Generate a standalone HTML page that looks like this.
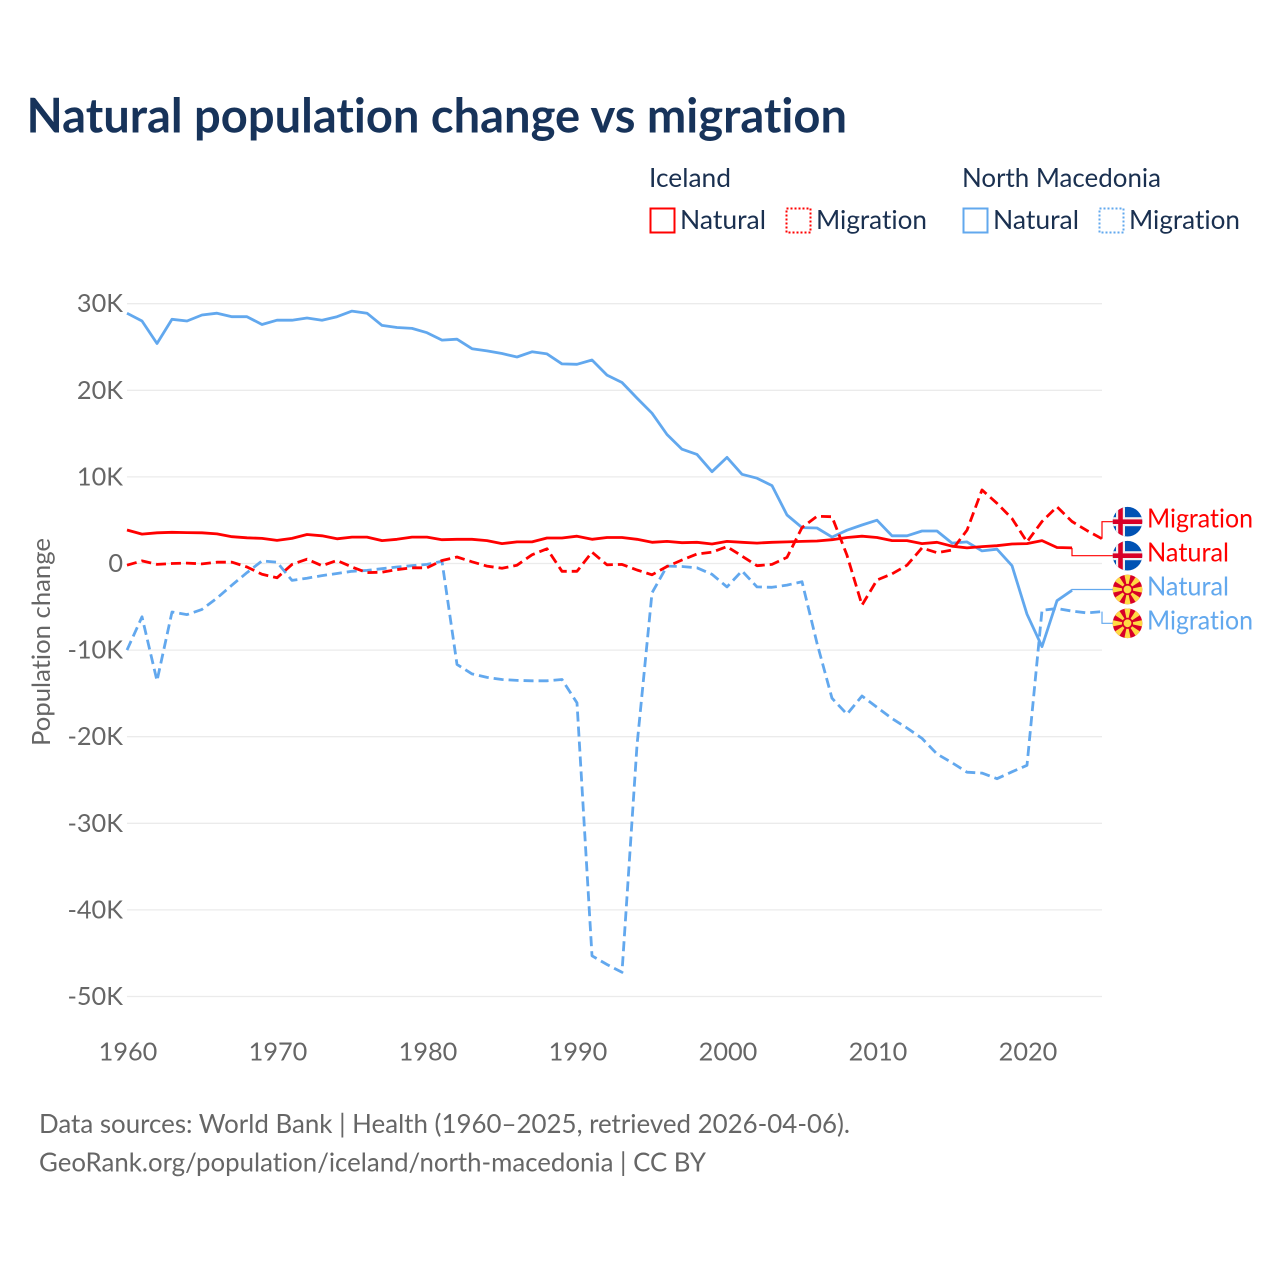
<!DOCTYPE html>
<html lang="en">
<head>
<meta charset="utf-8">
<title>Natural population change vs migration</title>
<style>
html,body{margin:0;padding:0;background:#fff;}
svg{display:block;font-family:"Lato","Carlito","Liberation Sans",sans-serif;font-variant-ligatures:none;}
text{font-variant-ligatures:none;font-feature-settings:"liga" 0,"clig" 0;}
.tick{font-size:25.3px;fill:#666;}
.leg{font-size:26px;fill:#1a3050;}
.endlabel{font-size:26px;}
.src{font-size:26px;fill:#666;}
</style>
</head>
<body>
<svg id="chart" width="1280" height="1280" viewBox="0 0 1280 1280" xmlns="http://www.w3.org/2000/svg">
  <defs>
    <clipPath id="flag-clip"><circle cx="0" cy="0" r="14.8"/></clipPath>
    <g id="flag-is" clip-path="url(#flag-clip)">
      <rect x="-16" y="-16" width="32" height="32" fill="#0052b4"/>
      <rect x="-11.5" y="-16" width="9" height="32" fill="#f0f0f0"/>
      <rect x="-16" y="-4.5" width="32" height="9" fill="#f0f0f0"/>
      <rect x="-9.3" y="-16" width="4.6" height="32" fill="#d80027"/>
      <rect x="-16" y="-2.3" width="32" height="4.6" fill="#d80027"/>
    </g>
    <g id="flag-mk" clip-path="url(#flag-clip)">
      <rect x="-16" y="-16" width="32" height="32" fill="#d80027"/>
      <g fill="#ffda44">
        <polygon points="0,0 -3.4,-16 3.4,-16"/>
        <polygon points="0,0 -3.4,-16 3.4,-16" transform="rotate(45)"/>
        <polygon points="0,0 -3.4,-16 3.4,-16" transform="rotate(90)"/>
        <polygon points="0,0 -3.4,-16 3.4,-16" transform="rotate(135)"/>
        <polygon points="0,0 -3.4,-16 3.4,-16" transform="rotate(180)"/>
        <polygon points="0,0 -3.4,-16 3.4,-16" transform="rotate(225)"/>
        <polygon points="0,0 -3.4,-16 3.4,-16" transform="rotate(270)"/>
        <polygon points="0,0 -3.4,-16 3.4,-16" transform="rotate(315)"/>
      </g>
      <circle r="5.6" fill="#d80027"/>
      <circle r="3.9" fill="#ffda44"/>
    </g>
  </defs>

  <text x="26.5" y="132.5" font-size="48" font-weight="700" fill="#17335a" textLength="820.5" lengthAdjust="spacingAndGlyphs">Natural population change vs migration</text>

  <g>
    <text class="leg" x="649" y="187" textLength="82" lengthAdjust="spacingAndGlyphs">Iceland</text>
    <text class="leg" x="962" y="187" textLength="199" lengthAdjust="spacingAndGlyphs">North Macedonia</text>
    <rect x="650.5" y="208.5" width="24" height="24" fill="none" stroke="#ff0000" stroke-width="2"/>
    <text class="leg" x="680" y="229" textLength="86" lengthAdjust="spacingAndGlyphs">Natural</text>
    <rect x="786.5" y="208.5" width="24" height="24" fill="none" stroke="#ff0000" stroke-width="2" stroke-dasharray="2 2"/>
    <text class="leg" x="816" y="229" textLength="111" lengthAdjust="spacingAndGlyphs">Migration</text>
    <rect x="963.5" y="208.5" width="24" height="24" fill="none" stroke="#62a8ee" stroke-width="2"/>
    <text class="leg" x="993" y="229" textLength="86" lengthAdjust="spacingAndGlyphs">Natural</text>
    <rect x="1099.5" y="208.5" width="24" height="24" fill="none" stroke="#62a8ee" stroke-width="2" stroke-dasharray="2 2"/>
    <text class="leg" x="1129" y="229" textLength="111" lengthAdjust="spacingAndGlyphs">Migration</text>
  </g>

  <text class="tick" transform="translate(50,642) rotate(-90)" text-anchor="middle" textLength="208" lengthAdjust="spacingAndGlyphs">Population change</text>

  <g id="grid"></g>
  <g id="yticks"></g>
  <g id="xticks"></g>
  <g id="connectors"></g>
  <g id="series"></g>

  <g>
    <use href="#flag-is" x="1127.5" y="521.7"/>
    <text class="endlabel" x="1147" y="527.5" fill="#ff0000" textLength="106" lengthAdjust="spacingAndGlyphs">Migration</text>
    <use href="#flag-is" x="1127.5" y="555.7"/>
    <text class="endlabel" x="1147" y="561.5" fill="#ff0000" textLength="82" lengthAdjust="spacingAndGlyphs">Natural</text>
    <use href="#flag-mk" x="1127.5" y="589.5"/>
    <text class="endlabel" x="1147" y="595.5" fill="#62a8ee" textLength="82" lengthAdjust="spacingAndGlyphs">Natural</text>
    <use href="#flag-mk" x="1127.5" y="623.3"/>
    <text class="endlabel" x="1147" y="629.5" fill="#62a8ee" textLength="106" lengthAdjust="spacingAndGlyphs">Migration</text>
  </g>

  <text class="src" x="39" y="1133" textLength="811" lengthAdjust="spacingAndGlyphs">Data sources: World Bank | Health (1960–2025, retrieved 2026-04-06).</text>
  <text class="src" x="39" y="1171.5" textLength="667" lengthAdjust="spacingAndGlyphs">GeoRank.org/population/iceland/north-macedonia | CC BY</text>
</svg>

<script>
const startYear = 1960;
const yTickValues = [30, 20, 10, 0, -10, -20, -30, -40, -50];
const yTickLabels = ["30K", "20K", "10K", "0", "-10K", "-20K", "-30K", "-40K", "-50K"];
const xTickValues = [1960, 1970, 1980, 1990, 2000, 2010, 2020];
const xTickLabels = ["1960", "1970", "1980", "1990", "2000", "2010", "2020"];

// Values in thousands, one per year starting at 1960
const icelandNatural = [3.87,3.4,3.55,3.6,3.57,3.55,3.42,3.1,2.97,2.9,2.67,2.9,3.35,3.2,2.85,3.05,3.05,2.65,2.8,3.05,3.05,2.75,2.8,2.8,2.65,2.3,2.5,2.5,2.95,2.95,3.15,2.8,3.0,3.0,2.8,2.45,2.55,2.4,2.45,2.25,2.55,2.45,2.35,2.45,2.5,2.55,2.6,2.75,3.0,3.15,3.0,2.65,2.65,2.3,2.45,2.0,1.8,1.95,2.05,2.25,2.3,2.65,1.85,1.8];
const icelandMigration = [-0.2,0.3,-0.1,0,0.05,-0.05,0.15,0.15,-0.4,-1.25,-1.65,-0.1,0.5,-0.25,0.35,-0.4,-1.05,-1.0,-0.7,-0.5,-0.5,0.35,0.75,0.2,-0.3,-0.55,-0.2,1.0,1.7,-0.9,-0.9,1.3,-0.15,-0.1,-0.75,-1.3,-0.35,0.4,1.1,1.3,1.95,0.85,-0.25,-0.1,0.7,4.15,5.45,5.4,0.95,-4.8,-1.9,-1.2,-0.2,1.8,1.25,1.55,3.85,8.5,6.95,5.2,2.5,4.85,6.55,4.85,3.8,2.85];
const macedoniaNatural = [28.9,28.0,25.4,28.2,28.0,28.7,28.9,28.5,28.5,27.6,28.1,28.1,28.35,28.1,28.5,29.15,28.9,27.5,27.25,27.15,26.65,25.8,25.9,24.8,24.55,24.25,23.85,24.45,24.2,23.05,23.0,23.5,21.75,20.9,19.1,17.35,14.9,13.2,12.6,10.6,12.25,10.3,9.85,9.0,5.6,4.15,4.1,3.05,3.85,4.45,5.0,3.2,3.2,3.75,3.75,2.35,2.5,1.45,1.65,-0.25,-5.85,-9.6,-4.3,-3.1];
const macedoniaMigration = [-10.0,-6.15,-13.55,-5.6,-5.9,-5.3,-4.0,-2.5,-1.05,0.3,0.15,-1.95,-1.7,-1.4,-1.15,-0.9,-0.8,-0.6,-0.4,-0.25,-0.1,0.25,-11.65,-12.75,-13.15,-13.4,-13.5,-13.55,-13.55,-13.4,-16.1,-45.3,-46.3,-47.2,-21.0,-3.4,-0.3,-0.35,-0.5,-1.25,-2.7,-0.85,-2.7,-2.75,-2.5,-2.1,-9.2,-15.55,-17.4,-15.3,-16.6,-17.9,-19.0,-20.2,-22.0,-23.0,-24.1,-24.2,-24.85,-24.05,-23.3,-5.4,-5.2,-5.5,-5.7,-5.55];

const SVG_NS = "http://www.w3.org/2000/svg";
function xScale(year) { return 127 + (year - 1960) * 15; }
function yScale(value) { return 563.5 - value * 8.66; }
function make(tag, parent) {
  const el = document.createElementNS(SVG_NS, tag);
  parent.appendChild(el);
  return el;
}

const gridGroup = document.getElementById("grid");
const yTickGroup = document.getElementById("yticks");
yTickValues.forEach(function (v, i) {
  const line = make("line", gridGroup);
  
  
  line.setAttribute("x1", 127);
  line.setAttribute("x2", 1102);
  line.setAttribute("y1", yScale(v));
  line.setAttribute("y2", yScale(v));
  line.setAttribute("stroke", "#ebebeb");
  line.setAttribute("stroke-width", "1.3");
  const label = make("text", yTickGroup);
  
  
  label.setAttribute("class", "tick");
  label.setAttribute("x", 123);
  label.setAttribute("y", yScale(v) + 8.5);
  label.setAttribute("text-anchor", "end");
  label.textContent = yTickLabels[i];
});

const xTickGroup = document.getElementById("xticks");
xTickValues.forEach(function (year, i) {
  const label = make("text", xTickGroup);
  
  
  label.setAttribute("class", "tick");
  label.setAttribute("x", xScale(year) + 1);
  label.setAttribute("y", 1060.5);
  label.setAttribute("text-anchor", "middle");
  label.textContent = xTickLabels[i];
});

function drawSeries(values, color, dashed, name) {
  const group = document.getElementById("series");
  const path = make("path", group);
  
  
  const d = values.map(function (v, i) {
    return (i ? "L" : "M") + xScale(startYear + i).toFixed(1) + " " + yScale(v).toFixed(1);
  }).join("");
  path.setAttribute("d", d);
  path.setAttribute("fill", "none");
  path.setAttribute("stroke", color);
  path.setAttribute("stroke-width", "2.8");
  path.setAttribute("stroke-linejoin", "round");
  if (dashed) path.setAttribute("stroke-dasharray", "10 5");
}

function drawConnector(values, color, targetY, name) {
  const group = document.getElementById("connectors");
  const path = make("path", group);
  
  
  const last = values.length - 1;
  path.setAttribute("d", "M" + xScale(startYear + last) + " " + yScale(values[last]).toFixed(1) + "V" + targetY + "H1113");
  path.setAttribute("fill", "none");
  path.setAttribute("stroke", color);
  path.setAttribute("stroke-width", "1.2");
}

const RED = "#ff0000";
const BLUE = "#62a8ee";
drawConnector(icelandMigration, RED, 521.7, "connector-iceland-migration");
drawConnector(icelandNatural, RED, 555.7, "connector-iceland-natural");
drawConnector(macedoniaNatural, BLUE, 589.5, "connector-north-macedonia-natural");
drawConnector(macedoniaMigration, BLUE, 623.3, "connector-north-macedonia-migration");

drawSeries(macedoniaMigration, BLUE, true, "line-north-macedonia-migration");
drawSeries(macedoniaNatural, BLUE, false, "line-north-macedonia-natural");
drawSeries(icelandMigration, RED, true, "line-iceland-migration");
drawSeries(icelandNatural, RED, false, "line-iceland-natural");
</script>
</body>
</html>
